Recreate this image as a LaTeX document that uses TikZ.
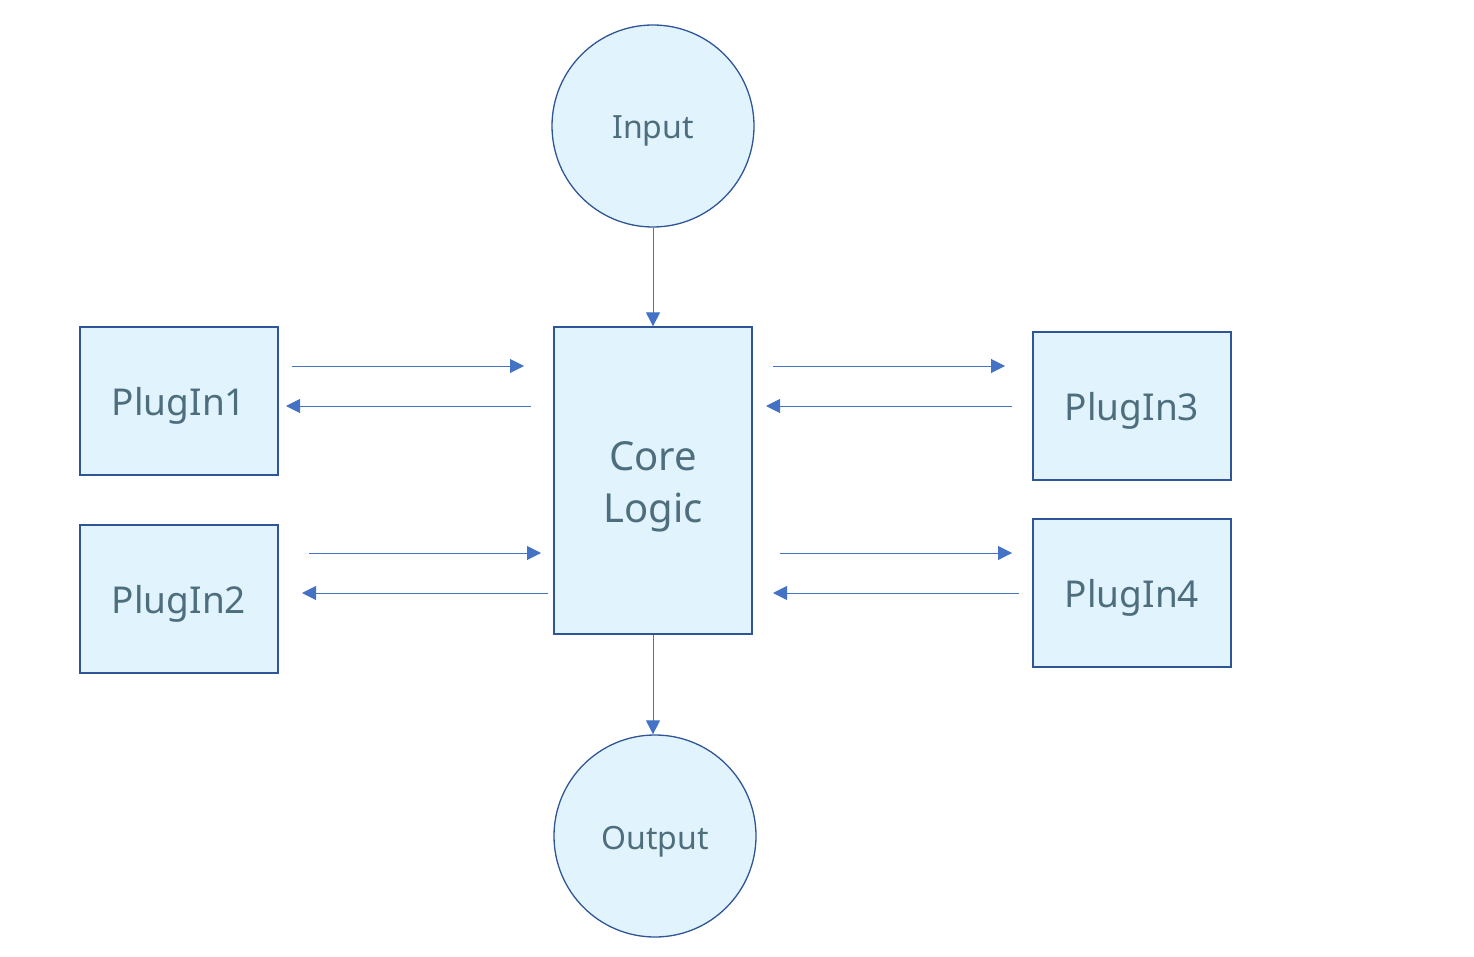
\documentclass[tikz,border=0pt]{standalone}
\usepackage{fontspec}
\setmainfont{Noto Sans}
\usetikzlibrary{arrows.meta}
\definecolor{boxfill}{RGB}{225,244,253}
\definecolor{boxline}{RGB}{47,85,151}
\definecolor{arrowblue}{RGB}{68,114,196}
\definecolor{labelgrey}{RGB}{78,110,126}
\tikzset{
	unit/.style={draw=boxline, fill=boxfill, line width=1.3pt, text=labelgrey, inner sep=0pt},
	plugbox/.style={unit, rectangle, minimum width=198pt, minimum height=148pt,
		text height=32pt, text depth=4pt, font=\fontsize{37}{40}\selectfont},
	endpoint/.style={unit, circle, minimum size=202pt,
		text height=32pt, text depth=6pt, font=\fontsize{32}{34}\selectfont},
	flow/.style={draw=arrowblue, line width=1pt, -{Triangle[length=14pt,width=14pt]}}
}
\begin{document}
\begin{tikzpicture}[x=1pt, y=-1pt]
	\useasboundingbox (0,0) rectangle (1474,957);
	\node [endpoint] (input) at (653,126) {Input};
	\node [endpoint] (output) at (655,836) {Output};
	\node [unit, rectangle, minimum width=198pt, minimum height=307pt, align=center,
		text height=90pt, text depth=7pt, font=\fontsize{40}{52}\selectfont] (core) at (653,480.5) {Core\\Logic};
	\node [plugbox] (plugA) at (179,401) {PlugIn1};
	\node [plugbox] (plugB) at (179,599) {PlugIn2};
	\node [plugbox] (plugC) at (1132,406) {PlugIn3};
	\node [plugbox] (plugD) at (1132,593) {PlugIn4};
	\draw [flow] (input) -- (core);
	\draw [flow] (core.south) -- (core.south |- output.north);
	% PlugIn1 <-> core
	\coordinate (a1) at (292,366); \coordinate (a2) at (524,366);
	\coordinate (a3) at (531,406); \coordinate (a4) at (286,406);
	\draw [flow] (a1) -- (a2);
	\draw [flow] (a3) -- (a4);
	% PlugIn2 <-> core
	\coordinate (b1) at (309,553); \coordinate (b2) at (541,553);
	\coordinate (b3) at (548,593); \coordinate (b4) at (302,593);
	\draw [flow] (b1) -- (b2);
	\draw [flow] (b3) -- (b4);
	% core <-> PlugIn3
	\coordinate (c1) at (773,366); \coordinate (c2) at (1005,366);
	\coordinate (c3) at (1012,406); \coordinate (c4) at (766,406);
	\draw [flow] (c1) -- (c2);
	\draw [flow] (c3) -- (c4);
	% core <-> PlugIn4
	\coordinate (d1) at (780,553); \coordinate (d2) at (1012,553);
	\coordinate (d3) at (1019,593); \coordinate (d4) at (773,593);
	\draw [flow] (d1) -- (d2);
	\draw [flow] (d3) -- (d4);
\end{tikzpicture}
\end{document}
